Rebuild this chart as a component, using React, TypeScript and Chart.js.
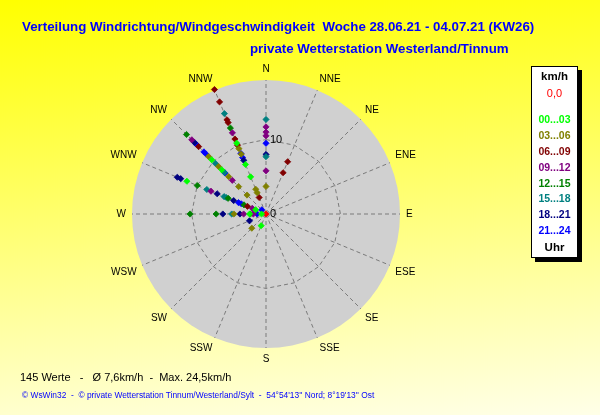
import React, { useEffect, useRef } from "react";
import { Chart, registerables } from "chart.js";

Chart.register(...registerables);

// ---- data -------------------------------------------------------------
const DIRECTIONS = ["N", "NNE", "NE", "ENE", "E", "ESE", "SE", "SSE", "S", "SSW", "SW", "WSW", "W", "WNW", "NW", "NNW"];
const RING_TICKS = [0, 10];
const SCALE_MAX = 18;

type Obs = [string, number]; // [direction, speed km/h]

const CALM: Obs[] = [["N", 0]];
const H00_03: Obs[] = [
  ["NNW", 10.3], ["NNW", 7.2], ["NNW", 5.4], ["NW", 10.3], ["NW", 8.4],
  ["WNW", 11.5], ["WNW", 1.5], ["W", 2.2], ["W", 0.6], ["SSW", 1.7],
];
const H03_06: Obs[] = [
  ["NNW", 9.5], ["NNW", 8.7], ["NNW", 3.6], ["NNW", 3.1], ["NW", 10.9], ["NW", 9.0],
  ["NW", 7.1], ["NW", 5.2], ["NW", 3.6], ["W", 4.3], ["SW", 2.7], ["N", 3.7],
];
const H06_09: Obs[] = [
  ["NNW", 18.1], ["NNW", 16.3], ["NNW", 13.7], ["NNW", 13.3], ["NNW", 10.9], ["NNW", 10.0],
  ["NNW", 2.4], ["NW", 12.8], ["WNW", 2.7], ["NNE", 7.6], ["NNE", 6.0],
];
const H09_12: Obs[] = [
  ["NNW", 11.8], ["NW", 14.1], ["NW", 6.4], ["WNW", 8.0], ["WNW", 2.0], ["W", 3.0],
  ["W", 1.7], ["N", 11.7], ["N", 11.0], ["N", 10.5], ["N", 5.8],
];
const H12_15: Obs[] = [
  ["NNW", 12.5], ["NW", 15.1], ["WNW", 10.0], ["WNW", 5.5], ["WNW", 3.2],
  ["W", 10.2], ["W", 6.7], ["W", 2.1],
];
const H15_18: Obs[] = [
  ["NNW", 14.6], ["NW", 9.6], ["NW", 7.9], ["WNW", 8.6], ["WNW", 6.1], ["WNW", 5.8],
  ["W", 4.6], ["N", 12.7], ["N", 7.7],
];
const H18_21: Obs[] = [
  ["NNW", 7.8], ["NW", 13.6], ["WNW", 12.9], ["WNW", 12.4], ["WNW", 7.1], ["WNW", 4.7],
  ["W", 5.8], ["W", 3.5], ["WSW", 2.4], ["N", 8.0],
];
const H21_24: Obs[] = [
  ["NNW", 8.8], ["NNW", 8.2], ["NW", 13.2], ["NW", 11.8], ["NW", 11.4], ["NW", 7.8],
  ["NW", 0.8], ["WNW", 4.0], ["WNW", 3.6], ["W", 1.2], ["N", 9.5],
];

const CLASS_LABELS = ["00...03", "03...06", "06...09", "09...12", "12...15", "15...18", "18...21", "21...24"];
const CLASS_COLORS = ["#00ff00", "#808000", "#800000", "#800080", "#008000", "#008080", "#000080", "#0000ff"];
const CLASS_DATA = [H00_03, H03_06, H06_09, H09_12, H12_15, H15_18, H18_21, H21_24];
const CALM_COLOR = "#ff0000";

const TITLE = "Verteilung Windrichtung/Windgeschwindigkeit  Woche 28.06.21 - 04.07.21 (KW26)";
const SUBTITLE = "private Wetterstation Westerland/Tinnum";
const STATS = "145 Werte   -   Ø 7,6km/h  -  Max. 24,5km/h";
const FOOTER = "© WsWin32  -  © private Wetterstation Tinnum/Westerland/Sylt  -  54°54'13'' Nord; 8°19'13'' Ost";

// ---- helpers ----------------------------------------------------------
function buildDatasets(points: Obs[], color: string) {
  const layers: (number | null)[][] = [];
  points.forEach(([dir, v]) => {
    const i = DIRECTIONS.indexOf(dir);
    let layer = layers.find((l) => l[i] === null);
    if (!layer) {
      layer = new Array(DIRECTIONS.length).fill(null);
      layers.push(layer);
    }
    layer[i] = v;
  });
  return layers.map((data) => ({
    data,
    showLine: false,
    fill: false,
    borderWidth: 0,
    backgroundColor: "transparent",
    borderColor: color,
    pointStyle: "rectRot",
    pointRadius: 3.1,
    pointBorderWidth: 0.8,
    pointBackgroundColor: color,
    pointBorderColor: color,
  }));
}

const FONT = '"Liberation Sans", Arial, Helvetica, sans-serif';

const discPlugin = {
  id: "disc",
  beforeDraw(chart: any) {
    const s = chart.scales.r;
    const ctx = chart.ctx;
    ctx.save();
    ctx.beginPath();
    ctx.arc(s.xCenter, s.yCenter, s.drawingArea, 0, Math.PI * 2);
    ctx.fillStyle = "#d0d0d0";
    ctx.fill();
    ctx.restore();
  },
};

const labelsPlugin = {
  id: "compassLabels",
  afterDraw(chart: any) {
    const s = chart.scales.r;
    const ctx = chart.ctx;
    ctx.save();
    ctx.fillStyle = "#000";
    ctx.textBaseline = "middle";
    ctx.font = "10px " + FONT;
    const n = DIRECTIONS.length;
    DIRECTIONS.forEach((label, i) => {
      const p = s.getPointPosition(i, s.drawingArea + 6);
      const deg = (360 / n) * i;
      let dy = 0;
      if (deg === 0 || deg === 180) {
        ctx.textAlign = "center";
        dy = deg === 0 ? -5 : 5;
      } else {
        ctx.textAlign = deg < 180 ? "left" : "right";
        dy = deg < 90 || deg > 270 ? -5 : deg === 90 || deg === 270 ? 0 : 5;
      }
      ctx.fillText(label, p.x, p.y + dy);
    });
    ctx.font = "11px " + FONT;
    ctx.textAlign = "left";
    RING_TICKS.forEach((v) => {
      ctx.fillText(String(v), s.xCenter + 4, s.yCenter - s.getDistanceFromCenterForValue(v));
    });
    ctx.restore();
  },
};

const legendLines: { text: string; color: string; y: number; size: number; bold: boolean }[] = [
  { text: "km/h", color: "#000", y: 76, size: 11.5, bold: true },
  { text: "0,0", color: CALM_COLOR, y: 92.5, size: 11, bold: false },
  ...CLASS_LABELS.map((t, i) => ({ text: t, color: CLASS_COLORS[i], y: 119.3 + i * 15.8, size: 10.5, bold: true })),
  { text: "Uhr", color: "#000", y: 246.7, size: 11.5, bold: true },
];

export default function App() {
  const ref = useRef<HTMLCanvasElement>(null);

  useEffect(() => {
    document.body.style.margin = "0";
    const datasets = [
      ...CLASS_DATA.flatMap((pts, i) => buildDatasets(pts, CLASS_COLORS[i])),
      ...buildDatasets(CALM, CALM_COLOR),
    ];
    const chart = new Chart(ref.current as HTMLCanvasElement, {
      type: "radar",
      data: { labels: DIRECTIONS, datasets: datasets as any },
      options: {
        responsive: false,
        animation: false,
        events: [],
        layout: { padding: { left: 132, top: 80, right: 200, bottom: 67 } },
        plugins: { legend: { display: false }, tooltip: { enabled: false }, title: { display: false } },
        scales: {
          r: {
            min: 0,
            max: SCALE_MAX,
            afterBuildTicks: (scale: any) => {
              scale.ticks = RING_TICKS.map((v) => ({ value: v }));
            },
            ticks: { display: false },
            pointLabels: { display: false },
            grid: { color: "#7a7a7a", lineWidth: 1, circular: false, borderDash: [4, 3] } as any,
            border: { dash: [4, 3] } as any,
            angleLines: { color: "#7a7a7a", lineWidth: 1, borderDash: [4, 3] },
          },
        },
      } as any,
      plugins: [discPlugin, labelsPlugin],
    });
    return () => chart.destroy();
  }, []);

  return (
    <div
      style={{
        position: "relative",
        width: 600,
        height: 415,
        overflow: "hidden",
        background: "linear-gradient(175deg, #ffff00 0%, #ffffe8 100%)",
        fontFamily: FONT,
      }}
    >
      <canvas ref={ref} width={600} height={415} style={{ position: "absolute", left: 0, top: 0, width: 600, height: 415 }} />
      <div style={{ position: "absolute", left: 22, top: 19, lineHeight: "16px", fontSize: 13.3, fontWeight: "bold", color: "#0000ff", whiteSpace: "pre" }}>
        {TITLE}
      </div>
      <div style={{ position: "absolute", left: 250, top: 41, lineHeight: "16px", fontSize: 13.3, fontWeight: "bold", color: "#0000ff", whiteSpace: "pre" }}>
        {SUBTITLE}
      </div>
      <div style={{ position: "absolute", left: 20, top: 370, lineHeight: "14px", fontSize: 11, color: "#000", whiteSpace: "pre" }}>
        {STATS}
      </div>
      <div style={{ position: "absolute", left: 22, top: 389, lineHeight: "12px", fontSize: 8.4, color: "#0000ff", whiteSpace: "pre" }}>
        {FOOTER}
      </div>
      <div
        style={{
          position: "absolute",
          left: 531,
          top: 66,
          width: 45,
          height: 190,
          background: "#fff",
          border: "1px solid #000",
          boxShadow: "4px 4px 0 #000",
        }}
      />
      {legendLines.map((l, i) => (
        <div
          key={i}
          style={{
            position: "absolute",
            left: 531,
            width: 47,
            top: l.y - 7,
            lineHeight: "14px",
            textAlign: "center",
            fontSize: l.size,
            fontWeight: l.bold ? "bold" : "normal",
            color: l.color,
            whiteSpace: "pre",
          }}
        >
          {l.text}
        </div>
      ))}
    </div>
  );
}
